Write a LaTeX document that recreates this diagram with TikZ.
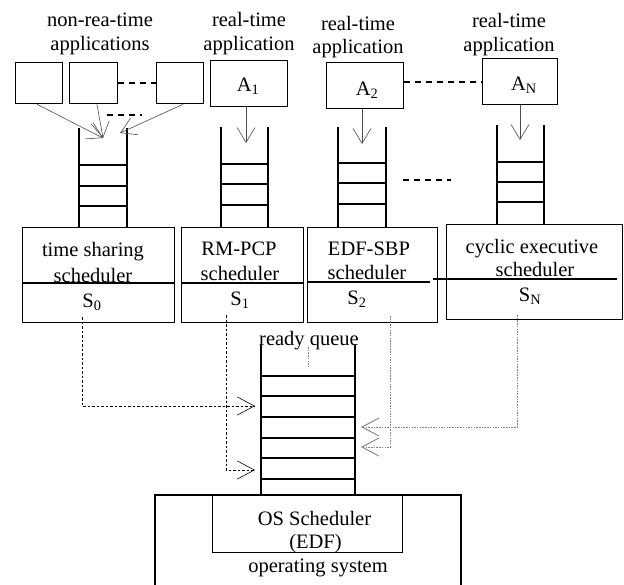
\documentclass[tikz,border=0pt]{standalone}
\usepackage{fontspec}
\setmainfont{Liberation Serif}
\usetikzlibrary{arrows.meta}

\tikzset{
  box/.style={draw, line width=1.3pt, inner sep=0pt, anchor=north west},
  lbl/.style={anchor=base, inner sep=0pt, font=\fontsize{20.5}{25}\selectfont},
  rail/.style={line width=1.3pt},
  feed/.style={gray!60!black, line width=0.6pt, -{Straight Barb[length=15pt,width=18pt]}},
  dispatch/.style={line width=0.6pt, dash pattern=on 2.5pt off 2pt, -{Straight Barb[length=17pt,width=18pt]}},
  dispatchgray/.style={gray, line width=0.9pt, dash pattern=on 1.5pt off 1.2pt, -{Straight Barb[length=17pt,width=18pt]}},
  gap/.style={line width=1.3pt, dash pattern=on 6pt off 5pt},
}

\begin{document}
\begin{tikzpicture}[x=1pt, y=-1pt]

\useasboundingbox (0,0) rectangle (624,584);

%% Application labels
\node [lbl] (Lnrt1) at (100, 26) {non-rea-time};
\node [lbl] (Lnrt2) at (100, 50) {applications};
\node [lbl] (Lrt11) at (249, 26) {real-time};
\node [lbl] (Lrt12) at (249, 50) {application};
\node [lbl] (Lrt21) at (358, 30) {real-time};
\node [lbl] (Lrt22) at (358, 53) {application};
\node [lbl] (LrtN1) at (509, 27) {real-time};
\node [lbl] (LrtN2) at (509, 51) {application};

%% Application boxes
\node [box, minimum width=47pt, minimum height=41pt] (P1) at (15, 62) {};
\node [box, minimum width=48pt, minimum height=41pt] (P2) at (69, 62) {};
\node [box, minimum width=47pt, minimum height=41pt] (P3) at (156, 62) {};
\node [box, minimum width=77pt, minimum height=46pt] (A1) at (210, 60) {};
\node [box, minimum width=77pt, minimum height=46pt] (A2) at (326, 62) {};
\node [box, minimum width=75pt, minimum height=46pt] (AN) at (482, 58) {};

\node [lbl] (A1t) at (248, 91) {A\textsubscript{1}};
\node [lbl] (A2t) at (367, 95) {A\textsubscript{2}};
\node [lbl] (ANt) at (524, 90) {A\textsubscript{N}};

\draw [gap] (P2.east |- 0, 83) -- (P3.west |- 0, 83);
\draw [gap] (A2.east |- 0, 82) -- (AN.west |- 0, 82);

%% Queues of the schedulers
% q = queue, l = left rail, r = right rail
\draw [rail] (79, 128) -- (79, 227);
\draw [rail] (127, 128) -- (127, 227);
\draw [rail] (79, 165) -- (127, 165);
\draw [rail] (79, 186) -- (127, 186);
\draw [rail] (79, 206) -- (127, 206);

\draw [rail] (221, 127) -- (221, 227);
\draw [rail] (268, 127) -- (268, 227);
\draw [rail] (221, 164) -- (268, 164);
\draw [rail] (221, 184) -- (268, 184);
\draw [rail] (221, 205) -- (268, 205);

\draw [rail] (338, 127) -- (338, 227);
\draw [rail] (386, 127) -- (386, 227);
\draw [rail] (338, 163) -- (386, 163);
\draw [rail] (338, 183) -- (386, 183);
\draw [rail] (338, 204) -- (386, 204);

\draw [rail] (497, 125) -- (497, 224);
\draw [rail] (544, 125) -- (544, 224);
\draw [rail] (497, 162) -- (544, 162);
\draw [rail] (497, 182) -- (544, 182);
\draw [rail] (497, 202) -- (544, 202);

\draw [gap] (403, 180) -- (451, 180);
\draw [gap] (107, 115) -- (142, 115);

%% Arrows into the queues
\coordinate (Q0a) at (103, 138);
\coordinate (Q0b) at (120, 133);
\coordinate (Q1) at (246, 143);
\coordinate (Q2) at (362, 144);
\coordinate (QN) at (520, 140);

\draw [feed] (P1.south -| 37, 0) -- (Q0a);
\draw [feed] (P2.south -| 97, 0) -- (Q0a);
\draw [feed] (P3.south -| 183, 0) -- (Q0b);
\draw [feed] (A1.south -| Q1) -- (Q1);
\draw [feed] (A2.south -| Q2) -- (Q2);
\draw [feed] (AN.south -| QN) -- (QN);

%% Scheduler boxes
\node [box, minimum width=152pt, minimum height=95pt] (S0) at (22, 227) {};
\node [box, minimum width=122pt, minimum height=95pt] (S1) at (181, 227) {};
\node [box, minimum width=130pt, minimum height=95pt] (S2) at (307, 227) {};
\node [box, minimum width=176pt, minimum height=95pt] (SN) at (446, 224) {};

\draw [rail] (S0.west |- 0, 283) -- (S0.east |- 0, 283);
\draw [rail] (S1.west |- 0, 283) -- (S1.east |- 0, 283);
\draw [rail] (S2.west |- 0, 282) -- (430, 282);
\draw [rail] (433, 279) -- (617, 279);

\node [lbl] (S0t1) at (93, 256) {time sharing};
\node [lbl] (S0t2) at (93, 282) {scheduler};
\node [lbl] (S0t3) at (92, 307) {S\textsubscript{0}};
\node [lbl] (S1t1) at (239, 255) {RM-PCP};
\node [lbl] (S1t2) at (240, 280) {scheduler};
\node [lbl] (S1t3) at (240, 305) {S\textsubscript{1}};
\node [lbl] (S2t1) at (369, 255) {EDF-SBP};
\node [lbl] (S2t2) at (367, 279) {scheduler};
\node [lbl] (S2t3) at (357, 304) {S\textsubscript{2}};
\node [lbl] (SNt1) at (532, 253) {cyclic executive};
\node [lbl] (SNt2) at (535, 276) {scheduler};
\node [lbl] (SNt3) at (530, 301) {S\textsubscript{N}};

%% Ready queue
\draw [rail] (261, 345) -- (261, 495);
\draw [rail] (355, 345) -- (355, 495);
\draw [rail] (261, 376) -- (355, 376);
\draw [rail] (261, 396) -- (355, 396);
\draw [rail] (261, 417) -- (355, 417);
\draw [rail] (261, 438) -- (355, 438);
\draw [rail] (261, 458) -- (355, 458);
\draw [rail] (261, 479) -- (355, 479);
\node [lbl] (RQ) at (309, 345) {ready queue};
\draw [gray, line width=0.9pt, dash pattern=on 1.5pt off 1.2pt] (308, 347) -- (308, 368);

%% Dispatch connectors
\coordinate (RQl1) at (255, 406);
\coordinate (RQl2) at (255, 470);
\coordinate (RQr1) at (361, 427);
\coordinate (RQr2) at (361, 447);

\draw [dispatch] (82, 317) |- (RQl1);
\draw [dispatch] (226, 315) |- (RQl2);
\draw [dispatchgray] (390, 316) |- (RQr2);
\draw [dispatchgray] (517, 315) |- (RQr1);

%% Operating system
\draw [rail] (155, 595) -- (155, 495) -- (461, 495) -- (461, 595);
\node [box, minimum width=190pt, minimum height=57pt] (OSS) at (212, 495) {};
\node [lbl] (OSt1) at (314.5, 525) {OS Scheduler};
\node [lbl] (OSt2) at (315.5, 548) {(EDF)};
\node [lbl] (OSt3) at (318, 572) {operating system};

\end{tikzpicture}
\end{document}
